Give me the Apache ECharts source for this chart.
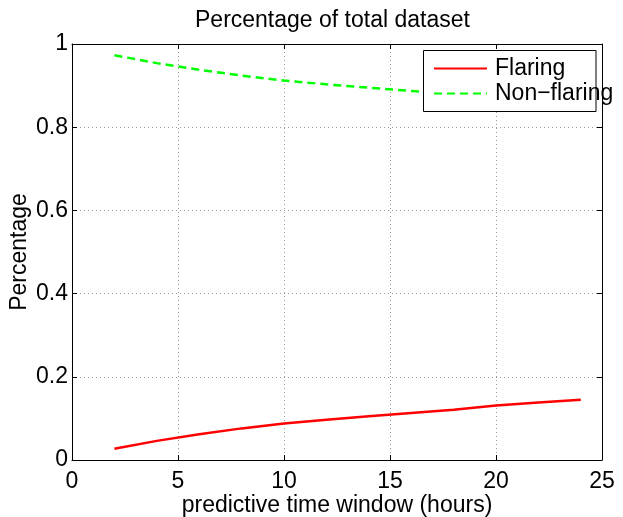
<!DOCTYPE html>
<html><head><meta charset="utf-8">
<script src="https://cdn.jsdelivr.net/npm/echarts@6/dist/echarts.min.js"></script>
<style>html,body{margin:0;padding:0;background:#fff}#c{width:623px;height:517px}</style>
</head><body><div id="c"></div>
<script>
const hours = [2, 4, 6, 8, 10, 12, 14, 16, 18, 20, 22, 24];
const flaring = [0.027, 0.046, 0.062, 0.076, 0.088, 0.097, 0.105, 0.113, 0.121, 0.131, 0.138, 0.145];
const nonFlaring = [0.973, 0.954, 0.938, 0.924, 0.912, 0.903, 0.895, 0.887, 0.879, 0.869, 0.862, 0.855];
const xTicks = [0, 5, 10, 15, 20, 25];
const yTicks = [0, 0.2, 0.4, 0.6, 0.8, 1];
const titleText = 'Percentage of total dataset';
const xName = 'predictive time window (hours)';
const yName = 'Percentage';
const seriesNames = ['Flaring', 'Non\u2212flaring'];

const font = '"Liberation Sans", Arial, Helvetica, sans-serif';
const txt = {fontSize: 23, fontFamily: font, color: '#000'};
const axLine = {show: true, onZero: false, lineStyle: {color: '#000', width: 1}};
const tick = {show: true, inside: true, length: 5, lineStyle: {color: '#000', width: 1}};
const grid = {show: true, lineStyle: {color: '#9a9a9a', width: 1, type: [1, 3]}};

const chart = echarts.init(document.getElementById('c'), null, {renderer: 'canvas'});
chart.setOption({
  animation: false,
  backgroundColor: '#fff',
  title: {text: titleText, left: 195, top: 9, padding: 0,
    textStyle: {fontSize: 23, fontFamily: font, color: '#000', fontWeight: 'normal'}},
  grid: {left: 72, right: 21, top: 44, bottom: 57, containLabel: false, outerBoundsMode: 'none'},
  xAxis: [
    {type: 'value', position: 'bottom', min: xTicks[0], max: xTicks[xTicks.length - 1],
      interval: xTicks[1] - xTicks[0], axisLine: axLine, axisTick: tick, splitLine: grid,
      axisLabel: Object.assign({margin: 10, showMinLabel: true, showMaxLabel: true}, txt),
      name: xName, nameLocation: 'middle', nameGap: 34, nameMoveOverlap: false, nameTextStyle: txt},
    {type: 'value', position: 'top', min: xTicks[0], max: xTicks[xTicks.length - 1],
      interval: xTicks[1] - xTicks[0], axisLine: axLine, axisTick: tick,
      axisLabel: {show: false}, splitLine: {show: false}}
  ],
  yAxis: [
    {type: 'value', position: 'left', min: yTicks[0], max: yTicks[yTicks.length - 1],
      interval: yTicks[1] - yTicks[0], axisLine: axLine, axisTick: tick, splitLine: grid,
      axisLabel: Object.assign({margin: 4, showMinLabel: true, showMaxLabel: true}, txt),
      name: yName, nameLocation: 'middle', nameGap: 41, nameMoveOverlap: false, nameTextStyle: txt},
    {type: 'value', position: 'right', min: yTicks[0], max: yTicks[yTicks.length - 1],
      interval: yTicks[1] - yTicks[0], axisLine: axLine, axisTick: tick,
      axisLabel: {show: false}, splitLine: {show: false}}
  ],
  graphic: {elements: [
    {type: 'rect', z: 50, shape: {x: 423.5, y: 50.5, width: 172.5, height: 61},
      style: {fill: '#fff', stroke: '#000', lineWidth: 1}}
  ]},
  legend: {orient: 'vertical', left: 433, top: 57, padding: 0, z: 100,
    itemWidth: 53, itemHeight: 14, itemGap: 2,
    itemStyle: {opacity: 0},
    textStyle: Object.assign({padding: [0, 0, 0, 3]}, txt),
    data: seriesNames},
  series: [
    {name: seriesNames[0], type: 'line', xAxisIndex: 0, yAxisIndex: 0, symbol: 'none',
      lineStyle: {color: '#ff0000', width: 2.5}, itemStyle: {color: '#ff0000'},
      data: hours.map((h, i) => [h, flaring[i]])},
    {name: seriesNames[1], type: 'line', xAxisIndex: 0, yAxisIndex: 0, symbol: 'none',
      lineStyle: {color: '#00ff00', width: 2.5, type: [8, 5]}, itemStyle: {color: '#00ff00'},
      data: hours.map((h, i) => [h, nonFlaring[i]])}
  ]
});
</script></body></html>
